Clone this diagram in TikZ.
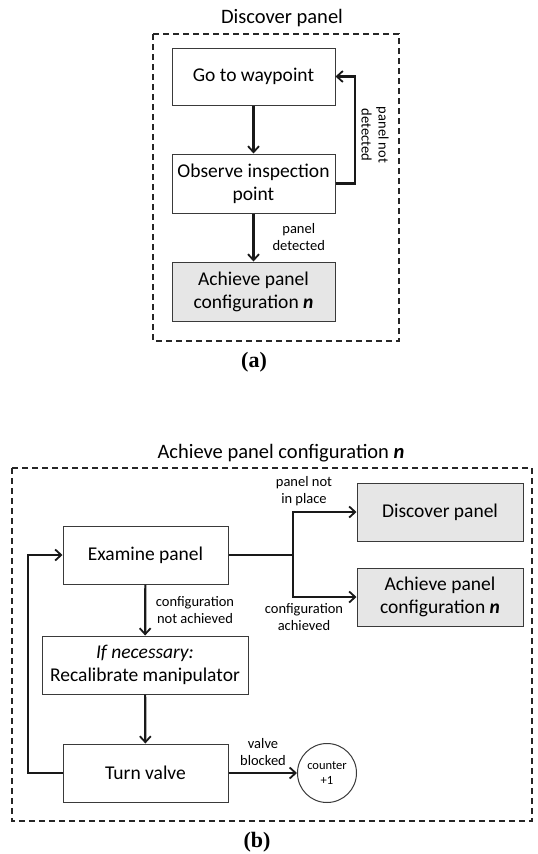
\documentclass[tikz,border=0pt]{standalone}
\usepackage{fontspec}
\setmainfont{Carlito}
\newfontfamily\capfont{Liberation Serif}
\usetikzlibrary{arrows.meta}
\definecolor{boxline}{HTML}{3A3A3A}
\definecolor{boxfill}{HTML}{E6E6E6}
\tikzset{
  stepbox/.style={draw=boxline, line width=1pt, fill=white, align=center,
    inner sep=2pt, font=\fontsize{19.5}{23}\selectfont},
  graybox/.style={stepbox, fill=boxfill},
  frame/.style={draw=black!85, line width=1.4pt, dash pattern=on 6pt off 4pt},
  flow/.style={draw=black!90, line width=2.2pt,
    -{Straight Barb[length=6pt,width=11pt,line width=1.8pt]}},
  flowplain/.style={draw=black!90, line width=2.2pt},
  lbl/.style={align=center, font=\fontsize{14.5}{17}\selectfont, inner sep=0pt},
  heading/.style={font=\fontsize{20.5}{24}\selectfont, inner sep=0pt},
  sublabel/.style={font=\capfont\bfseries\fontsize{22}{24}\selectfont, inner sep=0pt}
}
\newcommand{\nbi}{\textbf{\textit{n}}}
\begin{document}
\begin{tikzpicture}[x=1pt, y=-1pt]
  \useasboundingbox (0,0) rectangle (538,854);

  % ---------- (a) Discover panel ----------
  \node[heading] (ta) at (282,18) {Discover panel};
  \draw[frame] (153,34) rectangle (399,341);

  \node[stepbox, minimum width=163pt, minimum height=57pt] (go) at (253.5,76.5) {Go to waypoint};
  \node[stepbox, minimum width=163pt, minimum height=59pt] (obs) at (253.5,183.5) {Observe inspection\\point};
  \node[graybox, minimum width=163pt, minimum height=59pt] (ach1) at (253.5,291.5) {Achieve panel\\configuration \nbi};

  \draw[flow] (go) -- (obs);
  \draw[flow] (obs) -- node[lbl, right=18pt] (lpd) {panel\\detected} (ach1);
  \coordinate (lpa) at (355,183.5);
  \draw[flow] (obs.east) -- (lpa) |- (go.east);
  \node[lbl, rotate=-90] (lpn) at (375,135) {panel not\\detected};

  \node[sublabel] (capa) at (254,362) {(a)};

  % ---------- (b) Achieve panel configuration n ----------
  \node[heading] (tb) at (281,453) {Achieve panel configuration \nbi};
  \draw[frame] (12,468) rectangle (532,821);

  \node[stepbox, minimum width=165pt, minimum height=58pt] (exam) at (145.5,555) {Examine panel};
  \node[stepbox, minimum width=206pt, minimum height=58pt] (recal) at (145,665) {\textit{If necessary:}\\Recalibrate manipulator};
  \node[stepbox, minimum width=165pt, minimum height=58pt] (turn) at (145.5,773) {Turn valve};
  \node[graybox, minimum width=166pt, minimum height=58pt] (disc) at (440,512) {Discover panel};
  \node[graybox, minimum width=166pt, minimum height=58pt] (ach2) at (440,597) {Achieve panel\\configuration \nbi};
  \node[circle, draw=boxline, line width=1pt, minimum size=59pt, inner sep=0pt,
        align=center, font=\fontsize{12.5}{15}\selectfont] (cnt) at (327,773) {counter\\+1};

  % branching after the examination
  \coordinate (br) at (293,555);
  \draw[flowplain] (exam.east) -- (br);
  \draw[flow] (br) |- (disc.west);
  \draw[flow] (br) |- (ach2.west);
  \node[lbl] (lnp) at (304,491) {panel not\\in place};
  \node[lbl] (lca) at (304,617) {configuration\\achieved};

  % main sequence
  \draw[flow] (exam) -- (recal);
  \node[lbl] (lcn) at (195,610) {configuration\\not achieved};
  \draw[flow] (recal) -- (turn);
  \draw[flow] (turn) -- (cnt);
  \node[lbl] (lvb) at (263,752) {valve\\blocked};

  % return loop
  \coordinate (lp) at (28,773);
  \draw[flow] (turn.west) -- (lp) |- (exam.west);

  \node[sublabel] (capb) at (257,842) {(b)};
\end{tikzpicture}
\end{document}
